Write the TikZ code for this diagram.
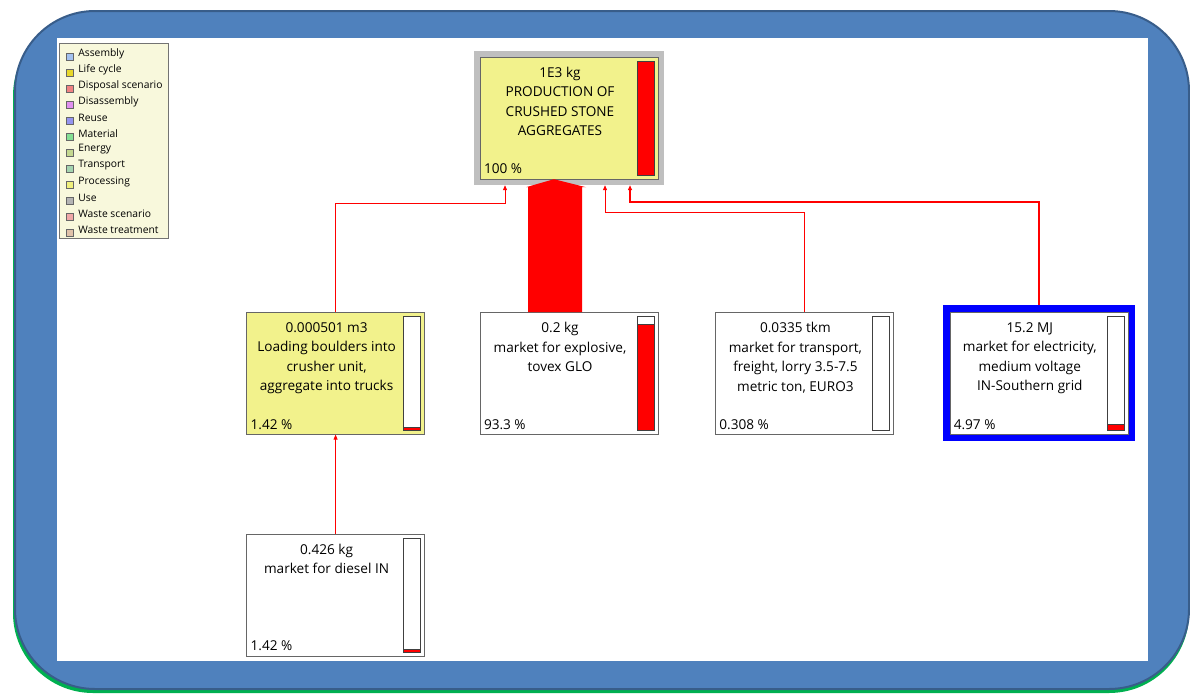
\documentclass[tikz,border=0pt]{standalone}
\usepackage{fontspec}
\setmainfont{Open Sans}
\usetikzlibrary{positioning, calc, arrows.meta}

\definecolor{framefill}{HTML}{4F81BD}
\definecolor{frameline}{HTML}{385D8A}
\definecolor{frameshadow}{HTML}{00B050}
\definecolor{procyellow}{HTML}{F2F28C}
\definecolor{legendfill}{HTML}{F8F8DC}
\definecolor{colassembly}{HTML}{A4C2F0}
\definecolor{collifecycle}{HTML}{E8D82A}
\definecolor{coldisposal}{HTML}{F08282}
\definecolor{coldisassembly}{HTML}{E090F0}
\definecolor{colreuse}{HTML}{9494F0}
\definecolor{colmaterial}{HTML}{84E094}
\definecolor{colenergy}{HTML}{C4D890}
\definecolor{coltransport}{HTML}{A4D4B0}
\definecolor{colprocessing}{HTML}{F0F07C}
\definecolor{coluse}{HTML}{B4B4B4}
\definecolor{colwastescen}{HTML}{F0A8A8}
\definecolor{colwastetreat}{HTML}{E0C2AA}

\begin{document}
\begin{tikzpicture}
    [x=1pt, y=1pt, node distance=8.6pt,
    procbox/.style={rectangle, draw=black!60, fill=white, minimum width=178pt, minimum height=122pt, inner sep=0pt},
    yellowbox/.style={procbox, fill=procyellow},
    levelbar/.style={path picture={
        \draw[draw=black!75, fill=white] ([xshift=-21pt, yshift=-4pt]path picture bounding box.north east) rectangle ([xshift=-4pt, yshift=4pt]path picture bounding box.south east);
        \draw[draw=black!75, fill=red] ([xshift=-21pt, yshift=4pt]path picture bounding box.south east) rectangle ([xshift=-4pt, yshift={4pt+#1*114pt}]path picture bounding box.south east);}},
    boxtext/.style={anchor=north, inner sep=0pt, align=center, font=\fontsize{13.6}{19.5}\selectfont, xshift=-9pt, yshift=-10pt},
    pctlabel/.style={anchor=south west, inner sep=0pt, font=\fontsize{13.6}{15}\selectfont, xshift=4pt, yshift=5pt},
    legbox/.style={rectangle, draw=black!55, fill=legendfill, minimum width=109pt, minimum height=195pt},
    legsq/.style={rectangle, draw=black!60, minimum size=7pt, inner sep=0pt},
    legtext/.style={inner sep=0pt, xshift=5pt, yshift=3pt, font=\fontsize{10.3}{11}\selectfont},
    flow/.style={draw=red, line width=0.8pt, -{Triangle[length=5pt, width=4pt]}},]

    %Frame
    \useasboundingbox (0,0) rectangle (1190,-696);
    \fill[frameshadow, rounded corners=80pt] (13,-16) rectangle (1189,-693);
    \draw[fill=framefill, draw=frameline, line width=2pt, rounded corners=80pt] (15,-11) rectangle (1189,-689);
    \fill[white] (57,-38) rectangle (1148,-661);

    %Legend
    \node[legbox](legend) at (113.5,-140.5){};
    \node[legsq, fill=colassembly, label={[legtext]right:Assembly}](asm)[below right=10pt and 7pt of legend.north west]{};
    \node[legsq, fill=collifecycle, label={[legtext]right:Life cycle}](lcy)[below=of asm]{};
    \node[legsq, fill=coldisposal, label={[legtext]right:Disposal scenario}](dsp)[below=of lcy]{};
    \node[legsq, fill=coldisassembly, label={[legtext]right:Disassembly}](dis)[below=of dsp]{};
    \node[legsq, fill=colreuse, label={[legtext]right:Reuse}](reu)[below=of dis]{};
    \node[legsq, fill=colmaterial, label={[legtext]right:Material}](mat)[below=of reu]{};
    \node[legsq, fill=colenergy, label={[legtext]right:Energy}](ene)[below=of mat]{};
    \node[legsq, fill=coltransport, label={[legtext]right:Transport}](tra)[below=of ene]{};
    \node[legsq, fill=colprocessing, label={[legtext]right:Processing}](pro)[below=of tra]{};
    \node[legsq, fill=coluse, label={[legtext]right:Use}](use)[below=of pro]{};
    \node[legsq, fill=colwastescen, label={[legtext]right:Waste scenario}](wsc)[below=of use]{};
    \node[legsq, fill=colwastetreat, label={[legtext]right:Waste treatment}](wtr)[below=of wsc]{};

    %Nodes
    \node[yellowbox, levelbar=1, preaction={draw=black!25, line width=12pt},
        label={[boxtext]north:{1E3 kg\\PRODUCTION OF\\CRUSHED STONE\\AGGREGATES}},
        label={[pctlabel]south west:100 \%}](prod) at (569,-118){};
    \node[procbox, levelbar=0.933,
        label={[boxtext]north:{0.2 kg\\market for explosive,\\tovex GLO}},
        label={[pctlabel]south west:93.3 \%}](explosive)[below=133pt of prod]{};
    \node[yellowbox, levelbar=0.025,
        label={[boxtext]north:{0.000501 m3\\Loading boulders into\\crusher unit,\\aggregate into trucks}},
        label={[pctlabel]south west:1.42 \%}](loading)[left=55pt of explosive]{};
    \node[procbox, levelbar=0,
        label={[boxtext]north:{0.0335 tkm\\market for transport,\\freight, lorry 3.5-7.5\\metric ton, EURO3}},
        label={[pctlabel]south west:0.308 \%}](transport)[right=57pt of explosive]{};
    \node[procbox, levelbar=0.055, preaction={draw=blue, line width=14pt},
        label={[boxtext]north:{15.2 MJ\\market for electricity,\\medium voltage\\IN-Southern grid}},
        label={[pctlabel]south west:4.97 \%}](electricity)[right=56pt of transport]{};
    \node[procbox, levelbar=0.025,
        label={[boxtext]north:{0.426 kg\\market for diesel IN}},
        label={[pctlabel]south west:1.42 \%}](diesel)[below=99pt of loading]{};

    %Lines
    \draw[flow](loading.north) -- ++(0,109) -| ([xshift=-64pt, yshift=-6pt]prod.south);
    \fill[red]([xshift=-41pt]explosive.north) -- ([xshift=-41pt, yshift=-8pt]prod.south) -- ++(-2,0)
        -- ([xshift=-15pt]prod.south) -- ([xshift=17pt, yshift=-8pt]prod.south) -- ++(-4,0)
        -- ([xshift=13pt]explosive.north) -- cycle;
    \draw[flow](transport.north) -- ++(0,100) -| ([xshift=36pt, yshift=-6pt]prod.south);
    \draw[flow, line width=2.4pt]([yshift=7pt]electricity.north) -- ++(0,103) -| ([xshift=61pt, yshift=-6pt]prod.south);
    \draw[flow](diesel.north) -- (loading.south);
\end{tikzpicture}
\end{document}
